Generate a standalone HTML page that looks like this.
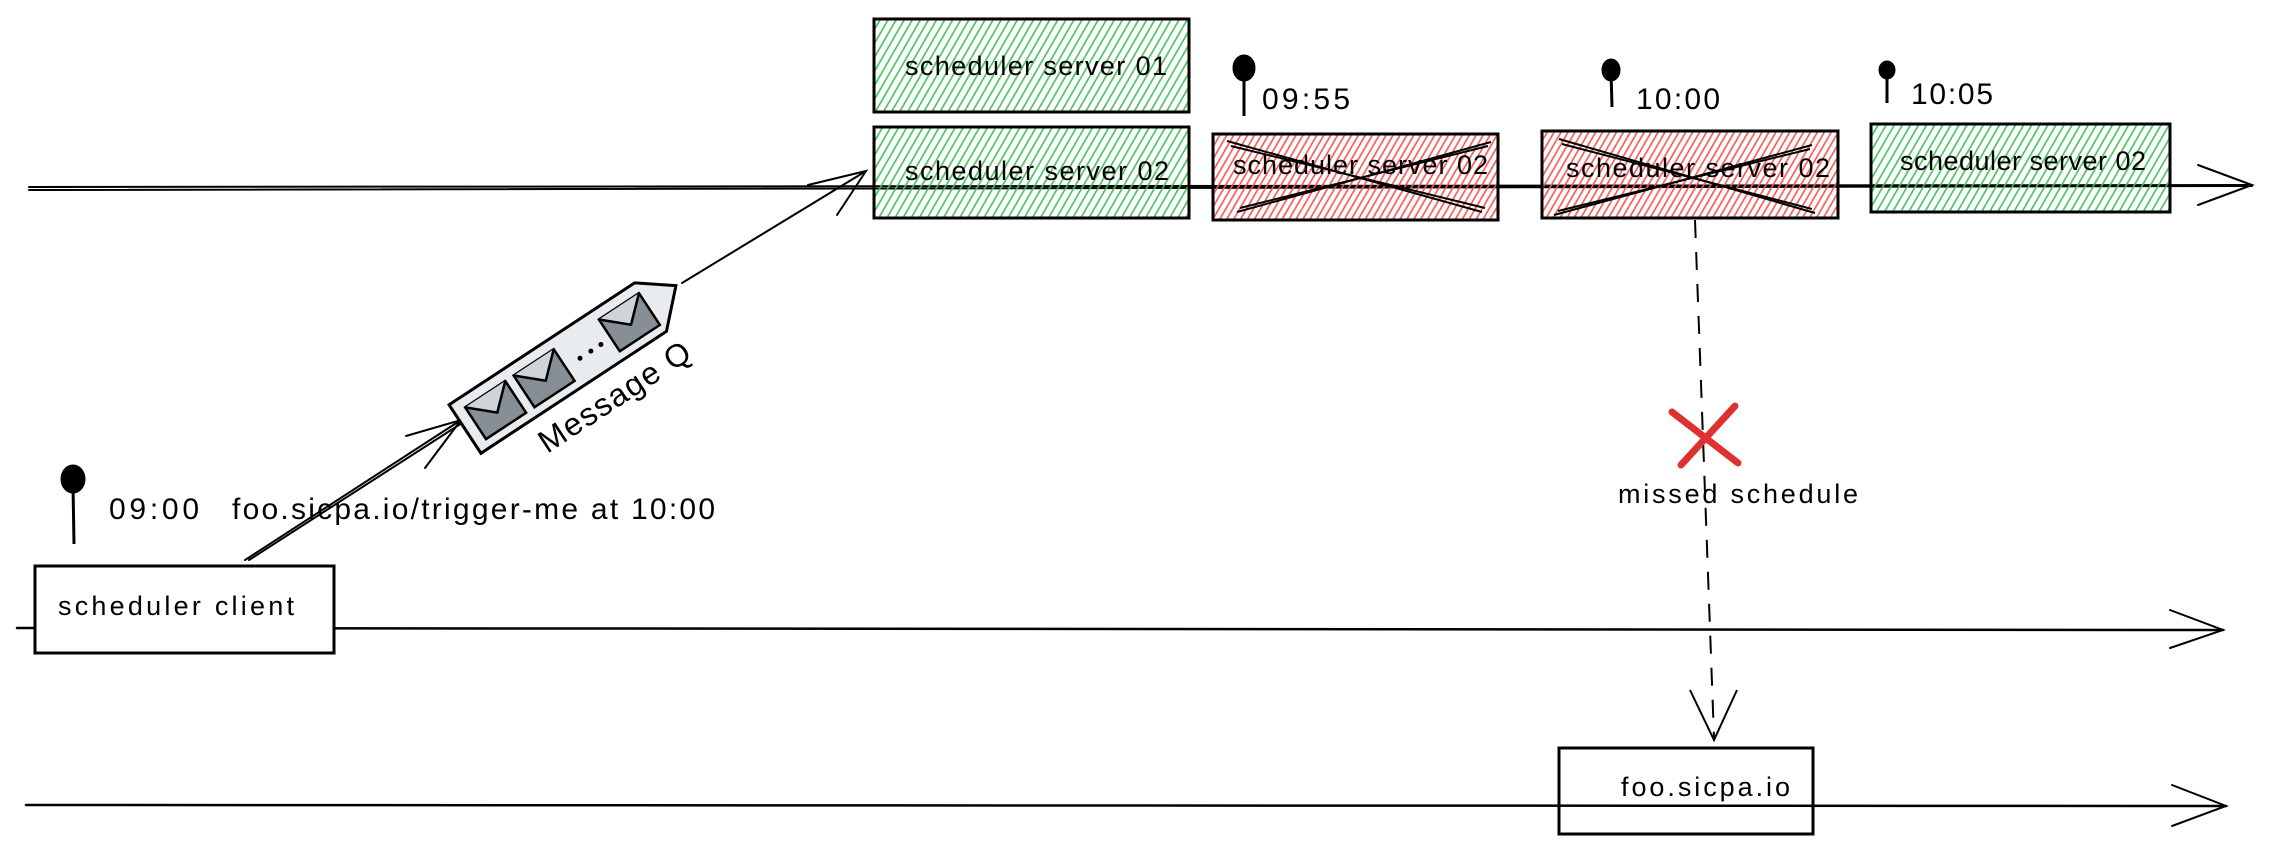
<!DOCTYPE html>
<html><head><meta charset="utf-8"><style>
html,body{margin:0;padding:0;background:#fff;}
svg{display:block}
text{font-family:"Liberation Sans",sans-serif;fill:#000}
</style></head><body>
<svg width="2274" height="853" viewBox="0 0 2274 853" xmlns="http://www.w3.org/2000/svg">
<defs>
<pattern id="g" width="7" height="7" patternUnits="userSpaceOnUse" patternTransform="rotate(30)">
<line x1="2" y1="0" x2="2" y2="7" stroke="#40c057" stroke-width="1.6"/></pattern>
<pattern id="r" width="6" height="6" patternUnits="userSpaceOnUse" patternTransform="rotate(30)">
<line x1="2" y1="0" x2="2" y2="6" stroke="#fa5252" stroke-width="1.6"/></pattern>
</defs>
<g stroke="#000" fill="none" stroke-width="2" stroke-linecap="round">
<line x1="29" y1="187" x2="2252" y2="185"/><line x1="29" y1="190" x2="2252" y2="186"/>
<polyline points="2198,165 2252,185 2198,205"/>
<line x1="17" y1="628" x2="2223" y2="630" stroke-width="2.5"/>
<polyline points="2170,610 2223,630 2170,648"/>
<line x1="26" y1="805" x2="2226" y2="806" stroke-width="2.5"/>
<polyline points="2172,785 2226,806 2172,826"/>
</g>
<g stroke="#000" stroke-width="3">
<rect x="874" y="19" width="315" height="93" fill="url(#g)"/>
<rect x="874" y="127" width="315" height="91" fill="url(#g)"/>
<rect x="1213" y="134" width="285" height="86" fill="url(#r)"/>
<rect x="1542" y="131" width="296" height="87" fill="url(#r)"/>
<rect x="1871" y="124" width="299" height="88" fill="url(#g)"/>
<rect x="35" y="566" width="299" height="87" fill="#fff"/>
<rect x="1559" y="748" width="254" height="86" fill="none"/>
</g>
<g font-size="27">
<text x="905" y="75" textLength="262">scheduler server 01</text>
<text x="905" y="180" textLength="264">scheduler server 02</text>
<text x="1233" y="174" textLength="255">scheduler server 02</text>
<text x="1566" y="177" textLength="264">scheduler server 02</text>
<text x="1900" y="170" textLength="246">scheduler server 02</text>
<text x="58" y="615" textLength="236">scheduler client</text>
<text x="1621" y="796" textLength="169">foo.sicpa.io</text>
<text x="1618" y="503" textLength="240">missed schedule</text>
</g>
<g font-size="30">
<text x="109" y="519" textLength="90">09:00</text>
<text x="232" y="519" textLength="483">foo.sicpa.io/trigger-me at 10:00</text>
<text x="1262" y="109" textLength="88">09:55</text>
<text x="1636" y="109" textLength="84">10:00</text>
<text x="1911" y="104" textLength="82">10:05</text>
</g>
<g stroke="#000" stroke-width="2">
<line x1="1227" y1="141" x2="1482" y2="212"/><line x1="1231" y1="146" x2="1485" y2="208"/>
<line x1="1237" y1="212" x2="1491" y2="142"/><line x1="1240" y1="208" x2="1488" y2="146"/>
<line x1="1559" y1="139" x2="1815" y2="213"/><line x1="1562" y1="144" x2="1812" y2="209"/>
<line x1="1554" y1="215" x2="1812" y2="145"/><line x1="1558" y1="211" x2="1810" y2="149"/>
</g>
<g fill="#000" stroke="#000" stroke-width="3">
<ellipse cx="73" cy="479" rx="11" ry="13"/><line x1="73" y1="485" x2="74" y2="544"/>
<ellipse cx="1244" cy="68" rx="10" ry="12"/><line x1="1244" y1="70" x2="1244" y2="116"/>
<ellipse cx="1611" cy="70" rx="8" ry="10"/><line x1="1611" y1="72" x2="1612" y2="107"/>
<ellipse cx="1887" cy="70" rx="7" ry="8"/><line x1="1887" y1="72" x2="1887" y2="103"/>
</g>
<g stroke="#000" fill="none" stroke-width="2" stroke-linecap="round">
<line x1="245" y1="560" x2="461" y2="420"/><line x1="249" y1="560" x2="462" y2="423"/>
<polyline points="406,436 461,420 425,468"/>
<line x1="682" y1="283" x2="866" y2="171"/>
<polyline points="808,185 866,171 837,215"/>
</g>
<g transform="translate(465,429) rotate(-33.3)">
<polygon points="0,-29 222,-29 255,-4 222,29 0,29" fill="#e9ecef" stroke="#000" stroke-width="3"/>
<g stroke="#000" stroke-width="2.5">
<rect x="12" y="-18" width="48" height="38" fill="#868e96"/>
<polyline points="12,-18 36,4 60,-18" fill="#ced4da"/>
<rect x="70" y="-18" width="48" height="38" fill="#868e96"/>
<polyline points="70,-18 94,4 118,-18" fill="#ced4da"/>
<rect x="172" y="-18" width="48" height="38" fill="#868e96"/>
<polyline points="172,-18 196,4 220,-18" fill="#ced4da"/>
</g>
<circle cx="135" cy="4" r="2.5" fill="#000"/><circle cx="148" cy="4" r="2.5" fill="#000"/><circle cx="160" cy="4" r="2.5" fill="#000"/>
<text x="55" y="66" font-size="32" textLength="175">Message Q</text>
</g>
<line x1="1695" y1="220" x2="1714" y2="738" stroke="#000" stroke-width="2" stroke-dasharray="18,14"/>
<polyline points="1690,690 1714,740 1737,690" fill="none" stroke="#000" stroke-width="2"/>
<g stroke="#e03131" stroke-width="7" stroke-linecap="round">
<line x1="1672" y1="412" x2="1738" y2="463"/><line x1="1735" y1="406" x2="1681" y2="465"/>
</g>
</svg>
</body></html>
